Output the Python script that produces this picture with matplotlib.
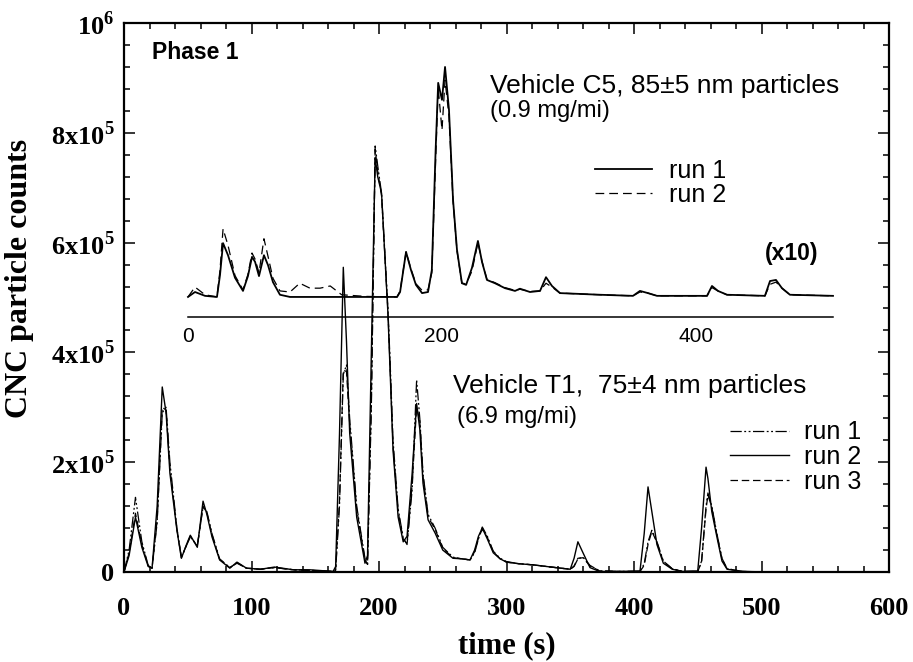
import numpy as np
import matplotlib
matplotlib.use("Agg")
import matplotlib.pyplot as plt
from matplotlib.ticker import MultipleLocator

plt.rcParams['mathtext.fontset'] = 'custom'
plt.rcParams['mathtext.rm'] = 'Liberation Serif:bold'
plt.rcParams['mathtext.bf'] = 'Liberation Serif:bold'

# Vehicle T1 (main axes), counts in thousands
t1_time = [0, 4, 9, 14, 19, 22, 26, 30, 33, 36, 41.5, 45, 49, 52, 57.5, 62, 65, 69, 75, 83,
           88.6, 96, 107, 118, 133, 146, 164, 166, 169, 172, 174.5, 177, 182.5, 189, 191, 194, 197, 199, 202, 207,
           208.6, 211, 215, 219, 222, 226, 229.5, 232, 234.5, 238.5, 244, 250, 258, 265, 271.4, 275, 278, 281, 285, 289.6,
           295, 300, 310, 321, 335, 350, 353, 356, 360, 365.5, 373, 390, 404.7, 408, 411, 414, 418, 423, 430, 438,
           450, 453, 456.5, 458, 461, 465, 469, 473, 485, 506.7]
t1_run1 = [0, 40, 136, 55, 12, 7, 90, 290, 300, 200, 80, 27, 48, 64, 48, 118, 110, 70, 24, 8,
           16, 7, 5, 8, 4, 3, 1, 3, 120, 360, 377, 280, 120, 25, 12, 300, 776, 740, 690, 480,
           390, 240, 115, 62, 50, 150, 350, 280, 180, 105, 80, 45, 27, 24, 22, 35, 60, 82, 65, 38,
           25, 19, 15, 13, 9, 5, 10, 24, 27, 12, 2, 1, 1, 15, 55, 76, 55, 20, 6, 1,
           1, 20, 120, 144, 120, 70, 25, 6, 1, 0]
t1_run2 = [0, 30, 100, 45, 10, 7, 120, 337, 290, 180, 76, 25, 50, 67, 45, 129, 105, 64, 22, 7,
           18, 7, 5, 9, 4, 4, 1, 10, 250, 555, 420, 253, 100, 16, 30, 400, 755, 720, 690, 471,
           373, 222, 100, 55, 65, 180, 307, 260, 162, 95, 71, 40, 25, 24, 22, 40, 65, 80, 60, 35,
           24, 18, 15, 13, 9, 5, 25, 55, 35, 8, 1, 1, 2, 70, 155, 110, 50, 16, 5, 1,
           2, 80, 191, 170, 110, 64, 20, 5, 1, 0]
t1_run3 = [0, 35, 107, 50, 11, 7, 95, 300, 295, 190, 78, 26, 49, 65, 47, 120, 108, 68, 23, 8,
           17, 7, 5, 8, 4, 3, 1, 4, 130, 368, 365, 270, 115, 22, 14, 310, 770, 730, 685, 475,
           380, 230, 110, 60, 52, 160, 300, 275, 175, 100, 78, 43, 26, 24, 22, 37, 62, 78, 63, 37,
           24, 18, 15, 13, 9, 5, 11, 25, 26, 11, 2, 1, 1, 12, 50, 74, 54, 19, 6, 1,
           1, 18, 115, 140, 118, 68, 24, 6, 1, 0]

# Vehicle C5 (inset, x10), counts in thousands above the inset baseline
c5_time = [0, 5.5, 13.4, 22.8, 25.2, 27.6, 31.5, 37, 43.3, 47.2, 50.4, 52.8, 55.9, 59.8, 63, 66.9, 72.4, 80.3,
           88, 96, 104, 112, 121, 140, 164.6, 167, 171.7, 175.6, 179.5, 184.3, 189, 192, 195, 197, 200, 202.4,
           205.5, 208.7, 211.8, 215.7, 219, 223.6, 228.3, 231.5, 235.4, 241.7, 249.6, 257.5, 261.4, 269.3, 277.2,
           281.9, 286.6, 292.9, 324.4, 350.4, 355.9, 362.2, 369.3, 408.7, 412.6, 417.3, 424.4, 454.3, 458.3, 463,
           467.7, 474, 507.9]
c5_run1 = [1, 10, 3, 1, 41, 99, 77, 36, 12, 39, 74, 65, 39, 77, 59, 28, 5, 1,
           1, 1, 1, 1, 1, 1, 1, 10, 83, 50, 23, 8, 10, 50, 269, 391, 360, 420,
           342, 178, 87, 26, 23, 54, 103, 65, 32, 26, 17, 12, 16, 10, 12,
           37, 21, 8, 5, 3, 12, 8, 3, 3, 21, 12, 5, 3, 30, 32,
           17, 5, 3]
c5_run2 = [1, 19, 5, 1, 50, 125, 95, 40, 14, 42, 81, 70, 45, 107, 75, 35, 12, 10,
           26, 17, 17, 21, 5, 2, 1, 12, 83, 52, 25, 13, 14, 45, 250, 382, 305, 396,
           330, 175, 85, 26, 25, 48, 100, 66, 33, 27, 18, 13, 15, 11, 12,
           26, 19, 8, 5, 3, 10, 8, 3, 3, 18, 12, 5, 3, 24, 28,
           17, 5, 3]

x_ticks = [0, 100, 200, 300, 400, 500, 600]
y_ticks = [0, 2e5, 4e5, 6e5, 8e5, 1e6]
y_labels = ['0', '2x10$^{5}$', '4x10$^{5}$', '6x10$^{5}$', '8x10$^{5}$', '10$^{6}$']
inset_ticks = [0, 200, 400]

serif = 'Liberation Serif'
sans = 'Liberation Sans'

fig = plt.figure(figsize=(9.13, 6.62), dpi=100)
rect = [124 / 913, 1 - 572 / 662, (889 - 124) / 913, (572 - 23) / 662]
ax = fig.add_axes(rect)

k = 1e3
ax.plot(t1_time, np.array(t1_run1) * k, color='black', lw=0.9, ls=(0, (9, 2, 1.5, 2, 1.5, 2)), label='run 1')
ax.plot(t1_time, np.array(t1_run2) * k, color='black', lw=1.0, ls='-', label='run 2')
ax.plot(t1_time, np.array(t1_run3) * k, color='black', lw=0.9, ls=(0, (6, 3)), label='run 3')

ax.set_xlim(0, 600)
ax.set_ylim(0, 1e6)
ax.set_xticks(x_ticks)
ax.xaxis.set_minor_locator(MultipleLocator(20))
ax.set_yticks(y_ticks)
ax.set_yticklabels(y_labels)
ax.yaxis.set_minor_locator(MultipleLocator(4e4))
ax.tick_params(which='both', direction='in', top=True, right=True, width=1.1)
ax.tick_params(which='major', length=8)
ax.tick_params(which='minor', length=4)
ax.tick_params(axis='x', pad=18)
ax.tick_params(axis='y', pad=7)
for lab in ax.get_xticklabels() + ax.get_yticklabels():
    lab.set_fontfamily(serif)
    lab.set_fontweight('bold')
    lab.set_fontsize(19)
for sp in ax.spines.values():
    sp.set_linewidth(1.6)

ax.set_xlabel('time (s)', fontfamily=serif, fontweight='bold', fontsize=22, labelpad=8)
ax.set_ylabel('CNC particle counts', fontfamily=serif, fontweight='bold', fontsize=23)
ax.yaxis.set_label_coords(-0.117, 0.534)

# inset for vehicle C5
ax_in = fig.add_axes(rect)
ax_in.patch.set_visible(False)
ax_in.plot(c5_time, np.array(c5_run1) * k, color='black', lw=1.3, ls='-', label='run 1')
ax_in.plot(c5_time, np.array(c5_run2) * k, color='black', lw=0.9, ls=(0, (7, 4)), label='run 2')
ax_in.set_xlim(-50.4, 552)
ax_in.set_ylim(-5e5, 5e5)
for name in ['top', 'left', 'right']:
    ax_in.spines[name].set_visible(False)
ax_in.spines['bottom'].set_position(('data', -3.6e4))
ax_in.spines['bottom'].set_bounds(0, 508)
ax_in.spines['bottom'].set_linewidth(1.1)
ax_in.set_yticks([])
ax_in.set_xticks(inset_ticks)
ax_in.tick_params(axis='x', length=0, pad=7, labelsize=15)
for lab in ax_in.get_xticklabels():
    lab.set_fontfamily(sans)

# annotations
ax.text(22, 947e3, 'Phase 1', fontfamily=sans, fontweight='bold', fontsize=16.5, va='center')
ax.text(287, 872e3, 'Vehicle C5, 85\u00b15 nm particles', fontfamily=sans, fontsize=19, va='baseline')
ax.text(287, 828e3, '(0.9 mg/mi)', fontfamily=sans, fontsize=17, va='baseline')
ax.text(502.7, 568e3, '(x10)', fontfamily=sans, fontweight='bold', fontsize=16.5, va='baseline')
ax.text(258, 326e3, 'Vehicle T1,  75\u00b14 nm particles', fontfamily=sans, fontsize=19, va='baseline')
ax.text(261, 271e3, '(6.9 mg/mi)', fontfamily=sans, fontsize=17, va='baseline')

leg_c5 = ax_in.legend(loc='upper left', bbox_to_anchor=(369.4, 752e3), bbox_transform=ax.transData,
                      frameon=False, prop={'family': sans, 'size': 18}, handlelength=2.3,
                      handletextpad=0.65, labelspacing=-0.02, borderpad=0, borderaxespad=0)
leg_t1 = ax.legend(loc='upper left', bbox_to_anchor=(475.3, 276e3), bbox_transform=ax.transData,
                   frameon=False, prop={'family': sans, 'size': 18}, handlelength=2.35,
                   handletextpad=0.6, labelspacing=0.03, borderpad=0, borderaxespad=0)

fig.savefig('out.png', dpi=100)
